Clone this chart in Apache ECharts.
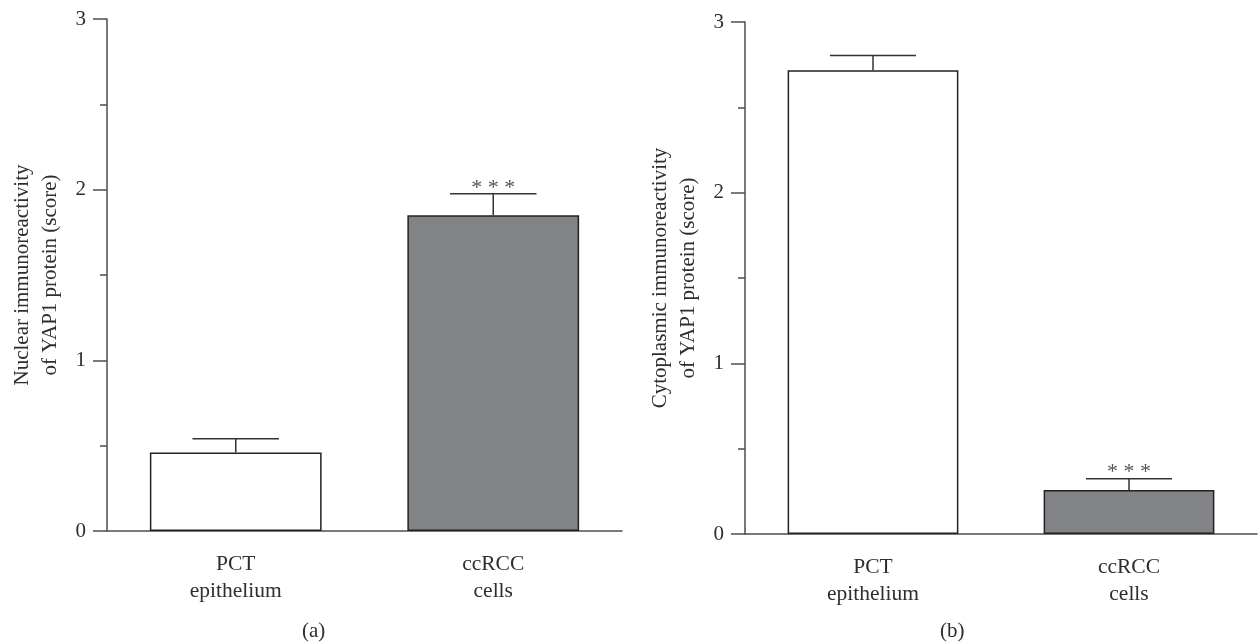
<!DOCTYPE html>
<html>
<head>
<meta charset="utf-8">
<script src="https://cdn.jsdelivr.net/npm/echarts@6/dist/echarts.min.js"></script>
<style>
html,body{margin:0;padding:0;background:#fff;}
#chart{width:1260px;height:643px;}
</style>
</head>
<body>
<div id="chart"></div>
<script>
// ---- data ----
const categories = ['PCT\nepithelium', 'ccRCC\ncells'];
const nuclearMean = [0.46, 1.85];
const nuclearUpper = [0.54, 1.976];
const cytoMean = [2.718, 0.258];
const cytoUpper = [2.803, 0.324];
const sigLabels = ['', '* * *'];
const yTickValues = [0, 1, 2, 3];
const panelLabels = ['(a)', '(b)'];
const yNames = ['Nuclear immunoreactivity\nof YAP1 protein (score)',
                'Cytoplasmic immunoreactivity\nof YAP1 protein (score)'];

// ---- styling ----
const FONT = '"Liberation Serif", "DejaVu Serif", serif';
const TXT = '#2e2e2e';
const AX = '#4d4d4d';
const barFills = ['#ffffff', '#828387'];

const chart = echarts.init(document.getElementById('chart'));

function xAxis(gi) {
  return {
    type: 'category', gridIndex: gi, data: categories,
    axisLine: { lineStyle: { color: AX, width: 1.5 } },
    axisTick: { alignWithLabel: true, length: 14, lineStyle: { color: AX, width: 1.5 } },
    axisLabel: { color: TXT, fontFamily: FONT, fontSize: 21.5, lineHeight: 27, margin: 20 }
  };
}
function yAxis(gi) {
  return {
    type: 'value', gridIndex: gi, min: yTickValues[0], max: yTickValues[yTickValues.length - 1], interval: 1,
    name: yNames[gi], nameLocation: 'middle', nameRotate: 90, nameGap: 43,
    nameTextStyle: { color: TXT, fontFamily: FONT, fontSize: 21, lineHeight: 28 },
    axisLine: { show: true, lineStyle: { color: AX, width: 1.5 } },
    axisTick: { show: true, length: 14, lineStyle: { color: AX, width: 1.5 } },
    minorTick: { show: true, splitNumber: 2, length: 7, lineStyle: { color: AX, width: 1.5 } },
    splitLine: { show: false },
    axisLabel: { color: TXT, fontFamily: FONT, fontSize: 21, margin: 21 }
  };
}

function errSeries(gi, means, uppers) {
  return {
    type: 'custom', xAxisIndex: gi, yAxisIndex: gi, z: 5,
    data: means.map((m, i) => [i, m, uppers[i]]),
    renderItem: function (params, api) {
      const i = api.value(0);
      const base = api.coord([i, api.value(1)]);
      const top = api.coord([i, api.value(2)]);
      const band = api.size([1, 0])[0];
      const hw = band * 0.168;
      const style = { stroke: '#333', lineWidth: 1.5 };
      const children = [
        { type: 'line', shape: { x1: base[0], y1: base[1], x2: top[0], y2: top[1] }, style: style },
        { type: 'line', shape: { x1: top[0] - hw, y1: top[1], x2: top[0] + hw, y2: top[1] }, style: style }
      ];
      const s = sigLabels[i];
      if (s) {
        children.push({ type: 'text', style: { text: s, x: top[0], y: top[1] + 5, align: 'center', verticalAlign: 'bottom',
          fill: '#555', font: '22px ' + FONT } });
      }
      return { type: 'group', children: children };
    }
  };
}

function barSeries(gi, vals) {
  return {
    type: 'bar', xAxisIndex: gi, yAxisIndex: gi, barWidth: '66.7%',
    data: vals.map((v, i) => ({ value: v, itemStyle: { color: barFills[i] } })),
    itemStyle: { borderColor: '#222', borderWidth: 1.5 },
    animation: false
  };
}

chart.setOption({
  animation: false,
  backgroundColor: '#ffffff',
  grid: [
    { left: 107, right: 638, top: 19, bottom: 112, outerBoundsMode: 'none', containLabel: false },
    { left: 745, right: 3, top: 22, bottom: 109, outerBoundsMode: 'none', containLabel: false }
  ],
  xAxis: [xAxis(0), xAxis(1)],
  yAxis: [yAxis(0), yAxis(1)],
  series: [
    barSeries(0, nuclearMean), errSeries(0, nuclearMean, nuclearUpper),
    barSeries(1, cytoMean), errSeries(1, cytoMean, cytoUpper)
  ],
  graphic: [
    { type: 'text', left: 302, top: 621, style: { text: panelLabels[0], fill: TXT, font: '21px ' + FONT } },
    { type: 'text', left: 940, top: 621, style: { text: panelLabels[1], fill: TXT, font: '21px ' + FONT } }
  ]
});
</script>
</body>
</html>
